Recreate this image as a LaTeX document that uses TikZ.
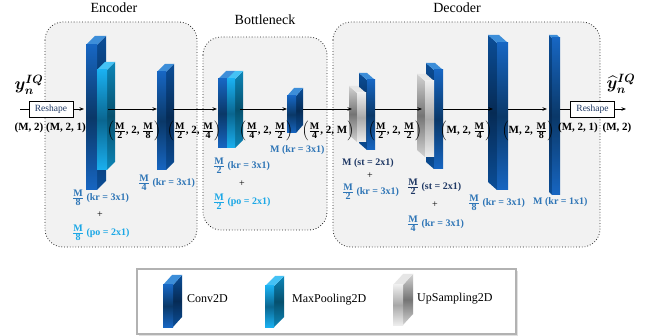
\documentclass[tikz,border=0pt]{standalone}
\usepackage{fontspec}
\setmainfont{Liberation Serif}
\usepackage{amsmath}
\usetikzlibrary{arrows.meta}

\definecolor{convA}{HTML}{1766C2}
\definecolor{convD}{HTML}{0A3868}
\definecolor{convS}{HTML}{0B4E98}
\definecolor{convSD}{HTML}{062B55}
\definecolor{convT}{HTML}{3D8ED9}
\definecolor{poolA}{HTML}{1AB0F0}
\definecolor{poolD}{HTML}{0A6690}
\definecolor{poolS}{HTML}{0D86B8}
\definecolor{poolSD}{HTML}{06506E}
\definecolor{poolT}{HTML}{45C2F5}
\definecolor{upA}{HTML}{EDEDED}
\definecolor{upD}{HTML}{A8A8A8}
\definecolor{upS}{HTML}{D2D2D2}
\definecolor{upSD}{HTML}{747474}
\definecolor{upT}{HTML}{E6E6E6}
\definecolor{boxfill}{HTML}{F2F2F2}
\definecolor{kblue}{HTML}{2E75B6}
\definecolor{plblue}{HTML}{1AA7E6}
\definecolor{navy}{HTML}{1F3864}

\newcommand\prismR[7]{%
  \shade[#7 side] (#1+#3,#2) -- (#1+#3+#5,#2-#6) -- (#1+#3+#5,#2+#4-#6) -- (#1+#3,#2+#4) -- cycle;
  \fill[#7 top] (#1,#2) -- (#1+#5,#2-#6) -- (#1+#3+#5,#2-#6) -- (#1+#3,#2) -- cycle;
  \shade[#7 front] (#1,#2) rectangle (#1+#3,#2+#4);
}
\newcommand\prismL[7]{%
  \shade[#7 side] (#1,#2) -- (#1-#5,#2-#6) -- (#1-#5,#2+#4-#6) -- (#1,#2+#4) -- cycle;
  \fill[#7 top] (#1,#2) -- (#1-#5,#2-#6) -- (#1+#3-#5,#2-#6) -- (#1+#3,#2) -- cycle;
  \shade[#7 front] (#1,#2) rectangle (#1+#3,#2+#4);
}
\newcommand\fr[2]{\ensuremath{\frac{\mbox{\fontsize{10}{10}\selectfont\bfseries #1}}{\mbox{\fontsize{10}{10}\selectfont\bfseries #2}}}}
\newcommand\tup[1]{\ensuremath{\left(#1\right)}}

\begin{document}
\begin{tikzpicture}[x=1pt,y=-1pt,
  conv front/.style={top color=convA,bottom color=convA,middle color=convD},
  conv side/.style={top color=convS,bottom color=convS,middle color=convSD},
  conv top/.style={fill=convT},
  pool front/.style={top color=poolA,bottom color=poolA,middle color=poolD},
  pool side/.style={top color=poolS,bottom color=poolS,middle color=poolSD},
  pool top/.style={fill=poolT},
  up front/.style={top color=upA,bottom color=upA,middle color=upD},
  up side/.style={top color=upS,bottom color=upS,middle color=upSD},
  up top/.style={fill=upT},
  group/.style={draw=black!85,dotted,line width=0.8pt,rounded corners=18pt,fill=boxfill},
  title/.style={font=\fontsize{14}{15}\selectfont},
  reshape/.style={draw,line width=0.7pt,fill=white,minimum width=44pt,minimum height=16pt,inner sep=0pt,text=navy,font=\fontsize{9.5}{10}\selectfont},
  conn/.style={-{Stealth[length=4.5pt,width=3.5pt]},line width=0.8pt},
  link/.style={line width=0.8pt},
  dimlab/.style={font=\fontsize{11}{12}\selectfont\bfseries,inner sep=0pt},
  klab/.style={anchor=west,inner sep=0pt,text=kblue,font=\fontsize{10}{11}\selectfont\bfseries},
  plab/.style={anchor=west,inner sep=0pt,text=plblue,font=\fontsize{10}{11}\selectfont\bfseries},
  slab/.style={anchor=west,inner sep=0pt,text=navy,font=\fontsize{10}{11}\selectfont\bfseries},
  plus/.style={inner sep=0pt,font=\fontsize{10}{11}\selectfont},
  legtext/.style={anchor=west,inner sep=0pt,font=\fontsize{12}{13}\selectfont}]
\useasboundingbox (0,0) rectangle (655,336);

% groups
\draw[group] (45,22) rectangle (197,247);
\draw[group] (203,37) rectangle (327,230);
\draw[group] (333,22) rectangle (600,247);
\node[title] (tenc) at (114,8) {Encoder};
\node[title] (tbot) at (265,20) {Bottleneck};
\node[title] (tdec) at (457,8) {Decoder};

% encoder blocks
\prismR{86}{45}{11}{145}{9}{9}{conv}
\prismR{97}{70}{10}{100}{8}{8}{pool}
\prismR{157}{72}{9}{98}{8}{8}{conv}
% bottleneck blocks
\prismR{218}{79}{9}{69}{8}{8}{conv}
\prismR{227}{79}{8}{69}{8}{8}{pool}
\prismR{287}{96}{9}{37}{7}{8}{conv}
% decoder blocks
\prismL{367}{80}{8}{70}{8}{7}{conv}
\prismL{357}{93}{9}{49}{8}{7}{up}
\prismL{434}{70}{9}{99}{8}{7}{conv}
\prismL{425}{81}{9}{76}{8}{7}{up}
\prismL{497}{43}{11}{147}{9}{8}{conv}
\prismL{552}{38}{8}{157}{3}{3}{conv}

% input / output
\node[inner sep=0pt] (yin) at (29,85) {\fontsize{18}{18}\selectfont$\boldsymbol{y_n^{IQ}}$};
\node[inner sep=0pt] (yout) at (621,84) {\fontsize{18}{18}\selectfont$\boldsymbol{\widehat{y}_n^{IQ}}$};
\node[reshape] (rs1) at (51,109) {Reshape};
\node[reshape] (rs2) at (592.5,109) {Reshape};

% connector end points
\coordinate (in0) at (20,109);
\coordinate (e1i) at (84,109);
\coordinate (e1o) at (108,109);
\coordinate (e2i) at (157,109);
\coordinate (e2o) at (173,109);
\coordinate (b1i) at (217,109);
\coordinate (b1o) at (240,109);
\coordinate (b2i) at (287,109);
\coordinate (b2o) at (303,109);
\coordinate (d1i) at (352,109);
\coordinate (d1o) at (375,109);
\coordinate (d2i) at (422,109);
\coordinate (d2o) at (443,109);
\coordinate (d3i) at (493,109);
\coordinate (d3o) at (508,109);
\coordinate (d4i) at (547,109);
\coordinate (d4o) at (560,109);
\coordinate (out0) at (626,109);

\draw[link] (in0) -- (rs1);
\draw[conn] (rs1) -- (e1i);
\draw[conn] (e1o) -- (e2i);
\draw[conn] (e2o) -- (b1i);
\draw[conn] (b1o) -- (b2i);
\draw[conn] (b2o) -- (d1i);
\draw[conn] (d1o) -- (d2i);
\draw[conn] (d2o) -- (d3i);
\draw[conn] (d3o) -- (d4i);
\draw[link] (d4o) -- (rs2);
\draw[conn] (rs2) -- (out0);

% shape labels
\node[dimlab] (s0) at (29,128) {(M, 2)};
\node[dimlab] (s1) at (66,128) {(M, 2, 1)};
\node[dimlab] (s2) at (134,131) {\tup{\fr{M}{2}\mbox{, 2, }\fr{M}{8}}};
\node[dimlab] (s3) at (194,131) {\tup{\fr{M}{2}\mbox{, 2, }\fr{M}{4}}};
\node[dimlab] (s4) at (266,131) {\tup{\fr{M}{4}\mbox{, 2, }\fr{M}{2}}};
\node[dimlab] (s5) at (328,131) {\tup{\fr{M}{4}\mbox{, 2, M}}};
\node[dimlab] (s6) at (395,131) {\tup{\fr{M}{2}\mbox{, 2, }\fr{M}{2}}};
\node[dimlab] (s7) at (466,131) {\tup{\mbox{M, 2, }\fr{M}{4}}};
\node[dimlab] (s8) at (528,131) {\tup{\mbox{M, 2, }\fr{M}{8}}};
\node[dimlab] (s9) at (578,128) {(M, 2, 1)};
\node[dimlab] (s10) at (617,128) {(M, 2)};

% layer labels: encoder
\node[klab] (l1) at (72,198) {\fr{M}{8} (kr = 3x1)};
\node[plus] (p1) at (100,215) {+};
\node[plab] (l2) at (72,233) {\fr{M}{8} (po = 2x1)};
\node[klab] (l3) at (138,183) {\fr{M}{4} (kr = 3x1)};
% bottleneck
\node[klab] (l4) at (213,166) {\fr{M}{2} (kr = 3x1)};
\node[plus] (p2) at (242,184) {+};
\node[plab] (l5) at (213,202) {\fr{M}{2} (po = 2x1)};
\node[klab] (l6) at (270,150) {M (kr = 3x1)};
% decoder
\node[slab] (l7) at (342,163) {M (st = 2x1)};
\node[plus] (p3) at (370,176) {+};
\node[klab] (l8) at (342,192) {\fr{M}{2} (kr = 3x1)};
\node[slab] (l9) at (407,187) {\fr{M}{2} (st = 2x1)};
\node[plus] (p4) at (435,205) {+};
\node[klab] (l10) at (407,224) {\fr{M}{4} (kr = 3x1)};
\node[klab] (l11) at (468,203) {\fr{M}{8} (kr = 3x1)};
\node[klab] (l12) at (533,202) {M (kr = 1x1)};

% legend
\fill[black!12] (139,271) rectangle (518,336);
\draw[draw=black!30,line width=1.2pt,fill=white] (137,269) rectangle (516,334);
\prismR{163}{285}{10}{42}{9}{10}{conv}
\prismR{265}{286}{9}{41}{10}{10}{pool}
\prismR{393}{285}{10}{40}{10}{11}{up}
\node[legtext] (g1) at (187,299) {Conv2D};
\node[legtext] (g2) at (292,300) {MaxPooling2D};
\node[legtext] (g3) at (417,299) {UpSampling2D};
\end{tikzpicture}
\end{document}
